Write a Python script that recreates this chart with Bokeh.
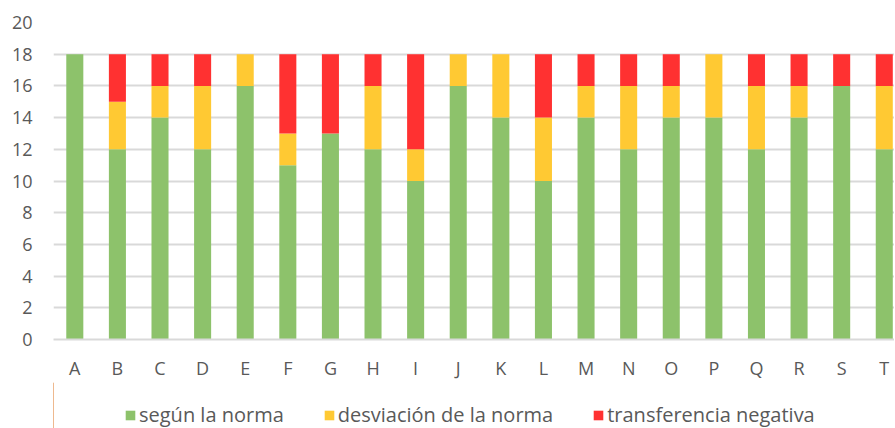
from bokeh.plotting import figure
from bokeh.models import Range1d, FixedTicker, Legend, LegendItem
from bokeh.layouts import column
from bokeh.embed import file_html
from bokeh.resources import INLINE

categories = ["A", "B", "C", "D", "E", "F", "G", "H", "I", "J",
              "K", "L", "M", "N", "O", "P", "Q", "R", "S", "T"]
segun_norma = [18, 12, 14, 12, 16, 11, 13, 12, 10, 16, 14, 10, 14, 12, 14, 14, 12, 14, 16, 12]
desviacion = [0, 3, 2, 4, 2, 2, 0, 4, 2, 2, 4, 4, 2, 4, 2, 4, 4, 2, 0, 4]
transferencia = [0, 3, 2, 2, 0, 5, 5, 2, 6, 0, 0, 4, 2, 2, 2, 0, 2, 2, 2, 2]
series_names = ["según la norma", "desviación de la norma", "transferencia negativa"]
colors = ["#8DC26B", "#FFC933", "#FF3131"]
y_ticks = [0, 2, 4, 6, 8, 10, 12, 14, 16, 18, 20]

xs = list(range(len(categories)))
data = dict(x=xs, s0=segun_norma, s1=desviacion, s2=transferencia)

FONT = "Open Sans"
GRAY = "#595959"

p = figure(frame_width=841, frame_height=317, output_backend="svg", toolbar_location=None,
           x_range=Range1d(-0.5, 19.24), y_range=Range1d(0, 20),
           min_border_left=53, min_border_right=0, min_border_top=22, min_border_bottom=0)
p.outline_line_color = None

rs = p.vbar_stack(["s0", "s1", "s2"], x="x", width=0.4, color=colors, line_color=None, source=data)

p.xaxis.ticker = FixedTicker(ticks=xs)
p.xaxis.major_label_overrides = {i: c for i, c in enumerate(categories)}
p.yaxis.ticker = FixedTicker(ticks=y_ticks)

for ax in (p.xaxis[0], p.yaxis[0]):
    ax.major_tick_line_color = None
    ax.minor_tick_line_color = None
    ax.major_tick_out = 0
    ax.minor_tick_out = 0
    ax.major_label_text_font = FONT
    ax.major_label_text_font_size = "18px"
    ax.major_label_text_color = GRAY
p.yaxis.axis_line_color = None
p.xaxis.axis_line_color = "#D9D9D9"
p.xaxis.axis_line_width = 2
p.xaxis.major_label_standoff = 16
p.yaxis.major_label_standoff = 21

p.xgrid.grid_line_color = None
p.ygrid.grid_line_color = "#D9D9D9"
p.ygrid.grid_line_width = 2
p.ygrid.ticker = FixedTicker(ticks=y_ticks)

# legend strip below the chart (its frame is aligned with the chart's frame)
lf = figure(width=894, height=50, output_backend="svg", toolbar_location=None,
            x_range=Range1d(0, 1), y_range=Range1d(0, 1),
            x_axis_location=None, y_axis_location=None,
            min_border_left=0, min_border_right=0, min_border_top=0, min_border_bottom=0)
lf.outline_line_color = None
lf.xgrid.grid_line_color = None
lf.ygrid.grid_line_color = None
lrs = [lf.vbar(x=[-10], top=[1], width=0.1, color=c, line_color=None) for c in colors]

legend = Legend(items=[LegendItem(label=n, renderers=[r]) for n, r in zip(series_names, lrs)],
                orientation="horizontal", location=(71, 4),
                label_text_font=FONT, label_text_font_size="20px", label_text_color=GRAY,
                glyph_width=12, glyph_height=12, spacing=39, padding=1, margin=0,
                border_line_color=None, background_fill_alpha=0, label_standoff=3)
lf.add_layout(legend, "center")

layout = column(p, lf, spacing=0)
open("out.html", "w").write(file_html(layout, INLINE))
